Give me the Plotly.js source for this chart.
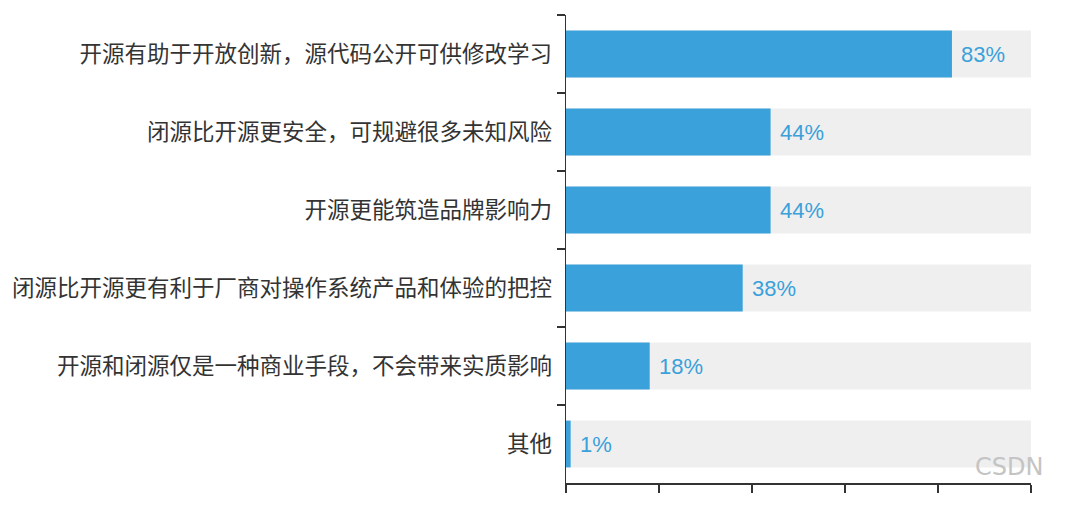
<!DOCTYPE html>
<html>
<head>
<meta charset="utf-8">
<script src="https://cdn.plot.ly/plotly-3.0.1.min.js"></script>
<style>
  html, body { margin: 0; padding: 0; background: #fff; }
  #plot { width: 1080px; height: 511px; }
</style>
</head>
<body>
<div id="plot"></div>
<script>
// Categories, top to bottom
const categories = [
    "开源有助于开放创新，源代码公开可供修改学习",
    "闭源比开源更安全，可规避很多未知风险",
    "开源更能筑造品牌影响力",
    "闭源比开源更有利于厂商对操作系统产品和体验的把控",
    "开源和闭源仅是一种商业手段，不会带来实质影响",
    "其他"
];
const shares = [83, 44, 44, 38, 18, 1];
const fullScale = [100, 100, 100, 100, 100, 100];

const blue = "#3aa1da";
const grey = "#efefef";
const axisColor = "#333333";

const background = {
    type: "bar",
    orientation: "h",
    y: categories,
    x: fullScale,
    width: 0.6,
    marker: {color: grey},
    hoverinfo: "skip",
    showlegend: false
};

const values = {
    type: "bar",
    orientation: "h",
    y: categories,
    x: shares,
    width: 0.6,
    marker: {color: blue},
    showlegend: false
};

// value labels just right of each blue bar
const valueLabels = categories.map((c, i) => ({
    xref: "x", yref: "y",
    x: shares[i], y: c,
    xanchor: "left", yanchor: "middle",
    xshift: 7,
    text: shares[i] + "%",
    showarrow: false,
    font: {family: "Liberation Sans, Arial, sans-serif", size: 22, color: blue}
}));

Plotly.newPlot("plot", [background, values], {
    width: 1080,
    height: 511,
    barmode: "overlay",
    margin: {l: 566, r: 49, t: 15, b: 28},
    paper_bgcolor: "#ffffff",
    plot_bgcolor: "#ffffff",
    font: {family: "Noto Sans CJK SC, sans-serif", color: axisColor},
    xaxis: {
        range: [0, 100],
        tickvals: [0, 20, 40, 60, 80, 100],
        showticklabels: false,
        ticks: "outside",
        ticklen: 8,
        tickwidth: 1.5,
        tickcolor: axisColor,
        showline: true,
        linecolor: axisColor,
        linewidth: 1.5,
        showgrid: false,
        zeroline: false,
        fixedrange: true
    },
    yaxis: {
        autorange: "reversed",
        tickson: "boundaries",
        ticks: "outside",
        ticklen: 8,
        tickwidth: 1.5,
        tickcolor: axisColor,
        ticklabelstandoff: 8,
        showline: true,
        linecolor: axisColor,
        linewidth: 1.5,
        showgrid: false,
        tickfont: {family: "Noto Sans CJK SC, sans-serif", size: 22.5, color: axisColor},
        fixedrange: true
    },
    annotations: valueLabels.concat([{
        xref: "paper", yref: "paper",
        x: 1.03, y: 0.035,
        xanchor: "right", yanchor: "middle",
        text: "CSDN",
        showarrow: false,
        font: {family: "DejaVu Sans, sans-serif", size: 24, color: "#c4c4c4"}
    }])
}, {displayModeBar: false, staticPlot: true});
</script>
</body>
</html>
